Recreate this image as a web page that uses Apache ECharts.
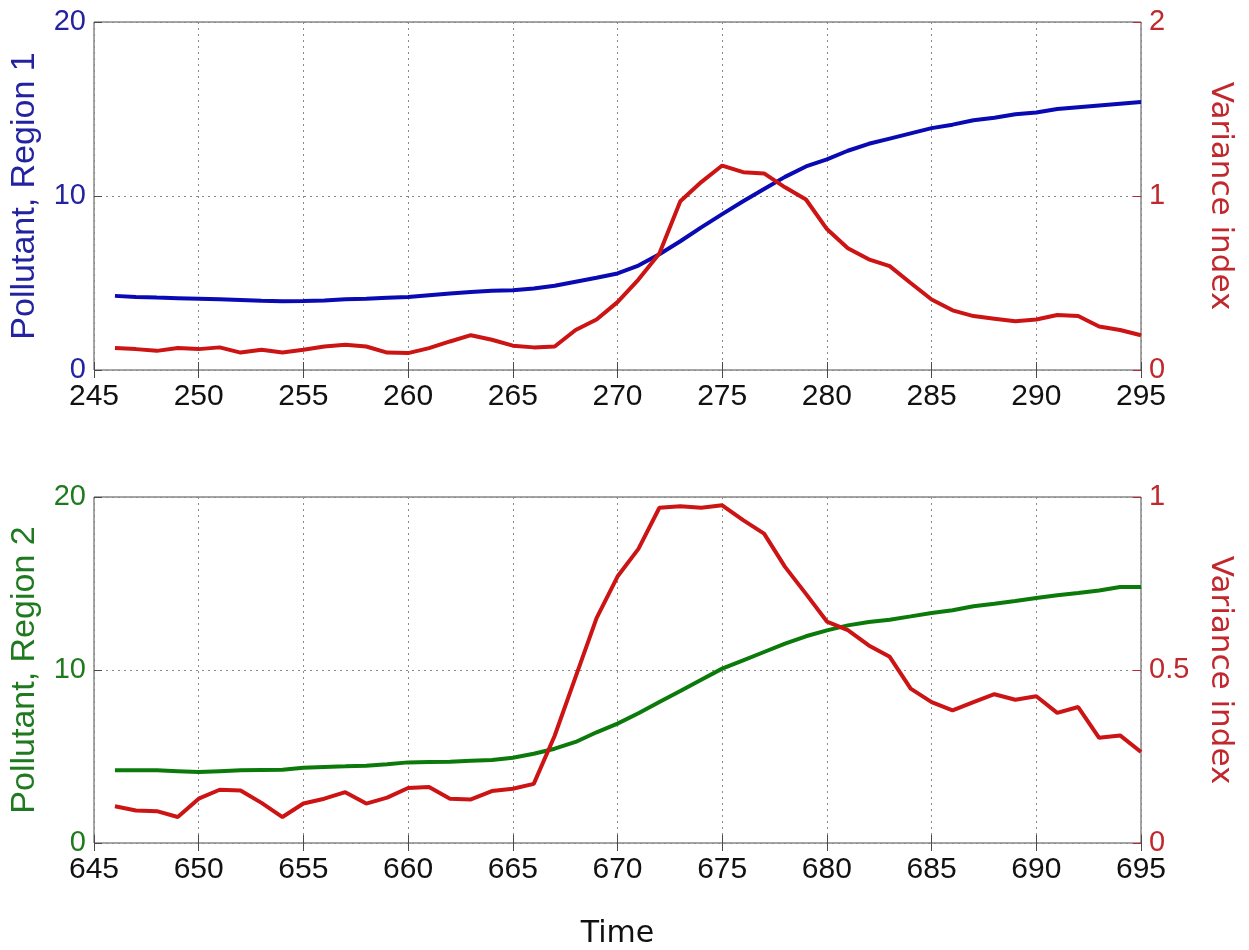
<!DOCTYPE html>
<html>
<head>
<meta charset="utf-8">
<script src="https://cdn.jsdelivr.net/npm/echarts@6/dist/echarts.min.js"></script>
<style>
html,body{margin:0;padding:0;background:#fff;}
#chart{width:1249px;height:950px;}
</style>
</head>
<body>
<div id="chart"></div>
<script>
// ---- Data ----
var time1 = [246,247,248,249,250,251,252,253,254,255,256,257,258,259,260,261,262,263,264,265,266,267,268,269,270,271,272,273,274,275,276,277,278,279,280,281,282,283,284,285,286,287,288,289,290,291,292,293,294,295];
var pollutant1 = [4.26,4.2,4.16,4.13,4.1,4.06,4.02,3.98,3.95,3.97,4.0,4.06,4.1,4.15,4.2,4.3,4.4,4.48,4.55,4.58,4.68,4.84,5.07,5.3,5.55,6.0,6.65,7.4,8.2,8.96,9.7,10.4,11.1,11.7,12.1,12.6,13.0,13.3,13.6,13.9,14.1,14.35,14.5,14.7,14.8,15.0,15.1,15.2,15.3,15.4];
var variance1 = [0.126,0.12,0.11,0.126,0.12,0.13,0.10,0.116,0.10,0.116,0.135,0.145,0.135,0.10,0.097,0.126,0.164,0.20,0.174,0.14,0.13,0.135,0.23,0.29,0.39,0.52,0.67,0.97,1.08,1.175,1.137,1.13,1.05,0.98,0.81,0.70,0.636,0.597,0.50,0.405,0.343,0.31,0.295,0.28,0.29,0.316,0.31,0.25,0.23,0.20];

var time2 = [646,647,648,649,650,651,652,653,654,655,656,657,658,659,660,661,662,663,664,665,666,667,668,669,670,671,672,673,674,675,676,677,678,679,680,681,682,683,684,685,686,687,688,689,690,691,692,693,694,695];
var pollutant2 = [4.2,4.2,4.2,4.15,4.1,4.15,4.2,4.22,4.24,4.35,4.4,4.43,4.47,4.55,4.66,4.68,4.7,4.75,4.8,4.93,5.16,5.45,5.84,6.4,6.9,7.5,8.15,8.79,9.44,10.08,10.56,11.04,11.52,11.95,12.29,12.58,12.77,12.91,13.1,13.3,13.45,13.68,13.83,13.99,14.16,14.32,14.45,14.6,14.8,14.8];
var variance2 = [0.106,0.094,0.092,0.075,0.128,0.154,0.152,0.116,0.075,0.114,0.128,0.147,0.114,0.131,0.159,0.162,0.128,0.126,0.15,0.157,0.171,0.31,0.48,0.65,0.77,0.85,0.969,0.973,0.969,0.976,0.933,0.894,0.798,0.72,0.64,0.615,0.571,0.538,0.446,0.407,0.383,0.407,0.43,0.414,0.424,0.376,0.393,0.304,0.311,0.263];

var xTicks1 = [245, 295, 5];
var xTicks2 = [645, 695, 5];
var leftTicks = [0, 20, 10];
var rightTicks1 = [0, 2, 1];
var rightTicks2 = [0, 1, 0.5];

var labels = {
  left1: 'Pollutant, Region 1',
  left2: 'Pollutant, Region 2',
  right: 'Variance index',
  x: 'Time'
};

// ---- Styling ----
var BLUE = '#0a0ab4', GREEN = '#0b7a0b', RED = '#cc1414';
var BLUE_T = '#2323a0', GREEN_T = '#1f7a1f', RED_T = '#c0282d';
var AX = '#4a4a4a';

function pairs(xs, ys){ return xs.map(function(x,i){ return [x, ys[i]]; }); }

function xAxes(g, t, name){
  var base = {
    gridIndex:g, type:'value', min:t[0], max:t[1], interval:t[2],
    axisLine:{show:false},
    axisTick:{show:true, inside:true, length:8, lineStyle:{color:AX, width:1}}
  };
  var bottom = Object.assign({}, base, {
    position:'bottom',
    axisLabel:{show:true, fontSize:30, color:'#111', margin:12, fontFamily:'Liberation Sans'},
    splitLine:{show:true, lineStyle:{type:[2,4], color:'#8a8a8a', width:1}}
  });
  if (name) {
    bottom.name = name; bottom.nameLocation = 'middle'; bottom.nameGap = 76;
    bottom.nameTextStyle = {fontSize:30, color:'#111', fontFamily:'DejaVu Sans'};
  }
  var top = Object.assign({}, base, {
    position:'top', axisLabel:{show:false}, splitLine:{show:false}
  });
  return [bottom, top];
}

function yAxes(g, lt, rt, lname, lcol){
  return [{
    gridIndex:g, type:'value', min:lt[0], max:lt[1], interval:lt[2], position:'left',
    name:lname, nameLocation:'middle', nameGap:52,
    nameTextStyle:{fontSize:34, color:lcol, fontFamily:'Liberation Sans'},
    axisLine:{show:false},
    axisTick:{show:true, inside:true, length:8, lineStyle:{color:AX}},
    axisLabel:{fontSize:29, color:lcol, margin:8, fontFamily:'Liberation Sans'},
    splitLine:{show:true, lineStyle:{type:[2,4], color:'#8a8a8a', width:1}}
  },{
    gridIndex:g, type:'value', min:rt[0], max:rt[1], interval:rt[2], position:'right',
    name:labels.right, nameLocation:'middle', nameGap:64, nameRotate:-90,
    nameTextStyle:{fontSize:31, color:RED_T, fontFamily:'DejaVu Sans'},
    axisLine:{show:false},
    axisTick:{show:true, inside:true, length:8, lineStyle:{color:RED_T}},
    axisLabel:{fontSize:29, color:RED_T, margin:8, fontFamily:'Liberation Sans'},
    splitLine:{show:false}
  }];
}

var gridBase = {left:94, width:1047, height:348, show:true, borderColor:AX, borderWidth:1, backgroundColor:'transparent'};

var option = {
  animation:false,
  backgroundColor:'#ffffff',
  grid:[Object.assign({top:22}, gridBase), Object.assign({top:497}, gridBase)],
  xAxis: xAxes(0, xTicks1, null).concat(xAxes(1, xTicks2, labels.x)),
  yAxis: yAxes(0, leftTicks, rightTicks1, labels.left1, BLUE_T).concat(yAxes(1, leftTicks, rightTicks2, labels.left2, GREEN_T)),
  series:[
    {type:'line', xAxisIndex:0, yAxisIndex:0, data:pairs(time1, pollutant1), showSymbol:false, lineStyle:{color:BLUE, width:4}, z:3},
    {type:'line', xAxisIndex:0, yAxisIndex:1, data:pairs(time1, variance1), showSymbol:false, lineStyle:{color:RED, width:4}, z:4},
    {type:'line', xAxisIndex:2, yAxisIndex:2, data:pairs(time2, pollutant2), showSymbol:false, lineStyle:{color:GREEN, width:4}, z:3},
    {type:'line', xAxisIndex:2, yAxisIndex:3, data:pairs(time2, variance2), showSymbol:false, lineStyle:{color:RED, width:4}, z:4}
  ]
};

var chart = echarts.init(document.getElementById('chart'), null, {renderer:'canvas'});
chart.setOption(option);
</script>
</body>
</html>
